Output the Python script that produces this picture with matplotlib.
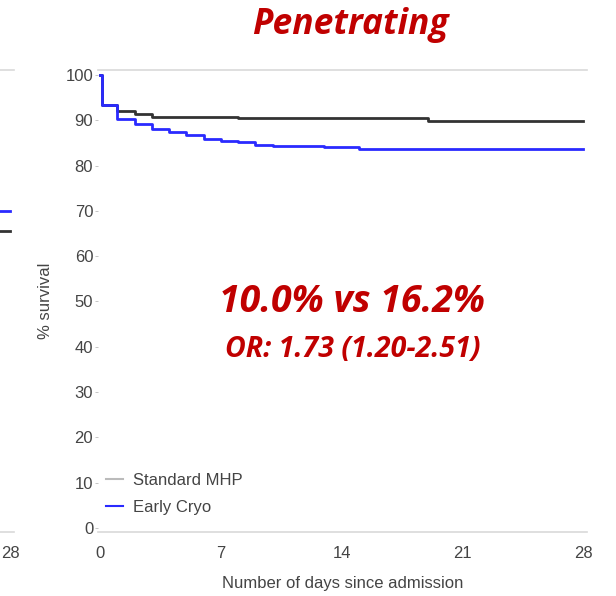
import matplotlib.pyplot as plt

plt.rcParams['font.family'] = ['Liberation Sans', 'DejaVu Sans']

# Kaplan-Meier style survival, penetrating injuries
days_mhp = [0, 0.1, 1, 2, 3, 8, 19, 28]
surv_mhp = [100, 93.4, 92.1, 91.4, 90.8, 90.4, 89.9, 89.9]

days_cryo = [0, 0.1, 1, 2, 3, 4, 5, 6, 7, 8, 9, 10, 13, 15, 28]
surv_cryo = [100, 93.4, 90.2, 89.1, 88.1, 87.3, 86.7, 85.9, 85.5, 85.1,
             84.5, 84.3, 84.0, 83.6, 83.6]

# tail end of the neighbouring (blunt) panel
days_left = [20, 28]
surv_left_mhp = [65.5, 65.5]
surv_left_cryo = [70.0, 70.0]

x_ticks = [0, 7, 14, 21, 28]
y_ticks = list(range(0, 101, 10))

c_mhp = '#333333'
c_cryo = '#2a2aff'
c_spine = '#d9d9d9'
c_text = '#444444'
c_red = '#c00000'
title_font = ['Open Sans', 'DejaVu Sans']


def style_axes(ax):
    ax.set_xlim(-0.12, 28.23)
    ax.set_ylim(-0.9, 101.1)
    for s in ['left', 'right']:
        ax.spines[s].set_visible(False)
    for s in ['top', 'bottom']:
        ax.spines[s].set_color(c_spine)
        ax.spines[s].set_linewidth(1.2)
    ax.set_xticks(x_ticks)
    ax.set_yticks(y_ticks)
    ax.tick_params(axis='x', length=0, pad=10, labelsize=12, labelcolor=c_text)
    ax.tick_params(axis='y', length=2.5, width=0.6, color='#bbbbbb', pad=1,
                   labelsize=12, labelcolor=c_text)


fig = plt.figure(figsize=(6.16, 5.96), dpi=100)

# partially visible panel on the left, only its last day shows
ax0 = fig.add_axes([-0.7711, 0.1074, 0.7938, 0.7752])
style_axes(ax0)
ax0.set_xticks([28])
ax0.set_yticks([])
ax0.step(days_left, surv_left_mhp, where='post', color=c_mhp, lw=2)
ax0.step(days_left, surv_left_cryo, where='post', color=c_cryo, lw=2)

ax = fig.add_axes([0.1591, 0.1074, 0.7938, 0.7752])
style_axes(ax)
ax.step(days_mhp, surv_mhp, where='post', color=c_mhp, lw=2)
ax.step(days_cryo, surv_cryo, where='post', color=c_cryo, lw=2)

ax.set_xlabel('Number of days since admission', fontsize=12, color=c_text, labelpad=11)
ax.set_ylabel('% survival', fontsize=12, color=c_text, labelpad=9)

h1, = ax.plot([], [], color='#bbbbbb', lw=1.5, label='Standard MHP')
h2, = ax.plot([], [], color=c_cryo, lw=1.5, label='Early Cryo')
ax.legend(handles=[h1, h2], loc='lower left', bbox_to_anchor=(-0.018, 0.0),
          frameon=False, fontsize=12, labelcolor=c_text, handlelength=1.0,
          handletextpad=0.6, labelspacing=0.75, borderaxespad=0.6)

fig.text(0.568, 0.958, 'Penetrating', ha='center', va='center', color=c_red,
         fontsize=25.5, fontweight='bold', fontstyle='italic', family=title_font)
ax.text(0.52, 0.497, '10.0% vs 16.2%', transform=ax.transAxes, ha='center',
        va='center', color=c_red, fontsize=27, fontweight='bold', fontstyle='italic',
        family=title_font)
ax.text(0.52, 0.395, 'OR: 1.73 (1.20-2.51)', transform=ax.transAxes, ha='center',
        va='center', color=c_red, fontsize=20.5, fontweight='bold', fontstyle='italic',
        family=title_font)

fig.savefig('out.png', dpi=100)
